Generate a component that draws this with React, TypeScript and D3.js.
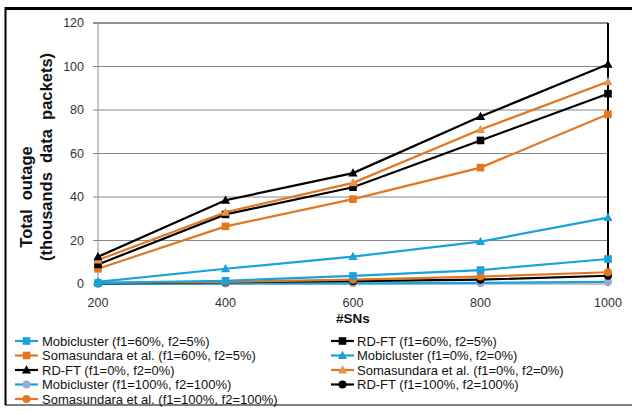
import React from "react";
import * as d3 from "d3";

const xValues = [200, 400, 600, 800, 1000];
const yTicks = [0, 20, 40, 60, 80, 100, 120];

const seriesNames = [
  "Mobicluster (f1=60%, f2=5%)",
  "RD-FT (f1=60%, f2=5%)",
  "Somasundara et al. (f1=60%, f2=5%)",
  "Mobicluster (f1=0%, f2=0%)",
  "RD-FT (f1=0%, f2=0%)",
  "Somasundara et al. (f1=0%, f2=0%)",
  "Mobicluster (f1=100%, f2=100%)",
  "RD-FT (f1=100%, f2=100%)",
  "Somasundara et al. (f1=100%, f2=100%)",
];

const mobi_60_5 = [0.5, 1.5, 3.7, 6.4, 11.5];
const rdft_60_5 = [9, 32, 44.5, 66, 87.5];
const soma_60_5 = [7, 26.5, 39, 53.5, 78];
const mobi_0_0 = [1, 7, 12.6, 19.5, 30.5];
const rdft_0_0 = [12.5, 38.5, 51, 77, 101];
const soma_0_0 = [11, 33, 46.5, 71, 93];
const mobi_100 = [0.1, 0.2, 0.3, 0.5, 1];
const rdft_100 = [0.3, 0.8, 1.3, 2, 3.8];
const soma_100 = [0.5, 1, 2, 3.4, 5.4];

const seriesValues = [
  mobi_60_5, rdft_60_5, soma_60_5,
  mobi_0_0, rdft_0_0, soma_0_0,
  mobi_100, rdft_100, soma_100,
];

const BLUE = "#19a2dc";
const ORANGE = "#e3771f";
const BLACK = "#000000";
const TAN = "#e39650";
const GREYBLUE = "#9aaad6";

const lineColors = [BLUE, BLACK, ORANGE, BLUE, BLACK, ORANGE, BLUE, BLACK, ORANGE];
const markerColors = [BLUE, BLACK, ORANGE, BLUE, BLACK, TAN, GREYBLUE, BLACK, ORANGE];
const markerShapes = ["square", "square", "square", "triangle", "triangle", "triangle", "circle", "circle", "circle"];

function Marker({ shape, x, y, color }: { shape: string; x: number; y: number; color: string }) {
  if (shape === "square") return <rect x={x - 3.8} y={y - 3.8} width={7.6} height={7.6} fill={color} />;
  if (shape === "triangle")
    return <path d={`M${x},${y - 4.8}L${x + 4.6},${y + 3.4}L${x - 4.6},${y + 3.4}Z`} fill={color} />;
  return <circle cx={x} cy={y} r={4} fill={color} />;
}

export default function App() {
  const W = 632, H = 411;
  const x = d3.scaleLinear().domain([200, 1000]).range([98, 608]);
  const y = d3.scaleLinear().domain([0, 120]).range([284, 23]);
  const line = d3.line<number>().x((_, i) => x(xValues[i])).y((d) => y(d));
  const font = "'Liberation Sans', Arial, sans-serif";
  const drawOrder = [6, 7, 8, 0, 3, 2, 1, 5, 4];

  const legendRows = [341, 355.5, 370, 384.5, 399];
  const legendPos = seriesNames.map((_, i) => ({
    col: i % 2,
    row: Math.floor(i / 2),
  }));
  const colX = [{ l0: 15, l1: 38, t: 42 }, { l0: 331, l1: 354, t: 357 }];

  return (
    <svg width={W} height={H} style={{ position: "absolute", left: 0, top: 0 }} fontFamily={font}>
      <rect x={0} y={0} width={W} height={H} fill="#fff" />
      {/* outer frame */}
      <line x1={5} x2={632} y1={8.5} y2={8.5} stroke="#000" strokeWidth={3} />
      <line x1={5.5} x2={5.5} y1={7} y2={405} stroke="#000" strokeWidth={2} />
      <line x1={5} x2={632} y1={405} y2={405} stroke="#000" strokeWidth={1} />

      {/* gridlines */}
      {yTicks.map((t) => (
        <line key={t} x1={93} x2={608} y1={y(t)} y2={y(t)} stroke={t === 120 ? "#222" : "#888"} strokeWidth={1} />
      ))}
      <line x1={98} x2={98} y1={y(120)} y2={y(0)} stroke="#888" strokeWidth={1} />
      <line x1={608} x2={608} y1={y(120)} y2={y(0) + 2} stroke="#000" strokeWidth={2} />

      {yTicks.map((t) => (
        <text key={t} x={84} y={y(t)} dy="0.35em" textAnchor="end" fontSize={12.5} fill="#333">
          {t}
        </text>
      ))}
      {xValues.map((v) => (
        <text key={v} x={x(v)} y={303} dy="0.35em" textAnchor="middle" fontSize={12.5} fill="#333">
          {v}
        </text>
      ))}
      <text x={353} y={318} dy="0.35em" textAnchor="middle" fontSize={13.5} fontWeight="bold" fill="#111">
        #SNs
      </text>
      <g transform="translate(26,197) rotate(-90)">
        <text x={0} y={0} dy="0.35em" textAnchor="middle" fontSize={16.5} fontWeight="bold" fill="#111" style={{ whiteSpace: "pre" }}>
          {"Total  outage"}
        </text>
      </g>
      <g transform="translate(46,157) rotate(-90)">
        <text x={0} y={0} dy="0.35em" textAnchor="middle" fontSize={16.5} fontWeight="bold" fill="#111" style={{ whiteSpace: "pre" }}>
          {"(thousands  data  packets)"}
        </text>
      </g>

      {/* series */}
      {drawOrder.map((i) => (
        <g key={i}>
          <path d={line(seriesValues[i]) || ""} fill="none" stroke={lineColors[i]} strokeWidth={2.2} />
          {seriesValues[i].map((v, j) => (
            <Marker key={j} shape={markerShapes[i]} x={x(xValues[j])} y={y(v)} color={markerColors[i]} />
          ))}
        </g>
      ))}

      {/* legend */}
      {seriesNames.map((name, i) => {
        const p = legendPos[i];
        const c = colX[p.col];
        const yy = legendRows[p.row];
        return (
          <g key={name}>
            <line x1={c.l0} x2={c.l1} y1={yy} y2={yy} stroke={lineColors[i]} strokeWidth={2.2} />
            <Marker shape={markerShapes[i]} x={(c.l0 + c.l1) / 2} y={yy} color={markerColors[i]} />
            <text x={c.t} y={yy} dy="0.35em" fontSize={13} fill="#111">
              {name}
            </text>
          </g>
        );
      })}
    </svg>
  );
}
